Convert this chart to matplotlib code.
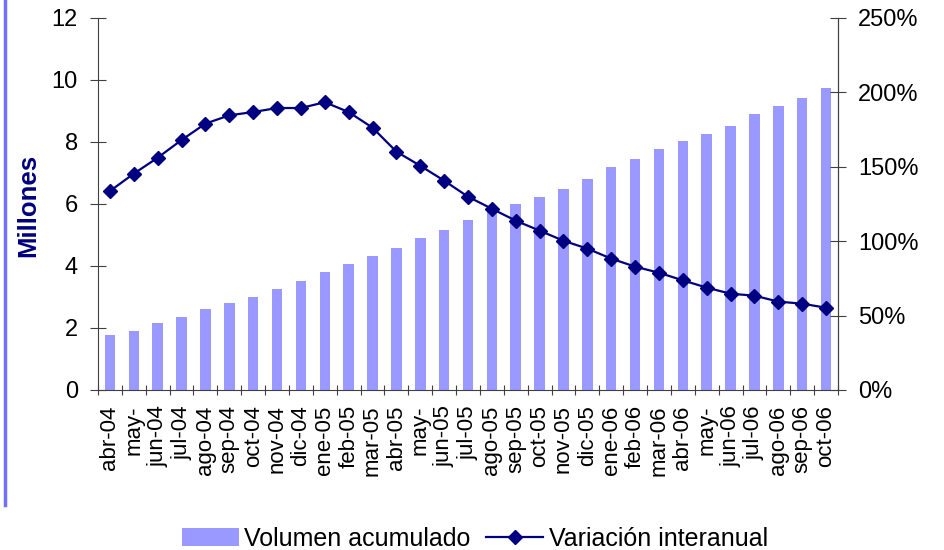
import matplotlib
matplotlib.use("Agg")
import matplotlib.pyplot as plt
from matplotlib.lines import Line2D
from matplotlib.ticker import FuncFormatter, FixedLocator, NullFormatter

plt.rcParams['font.family'] = ['Liberation Sans', 'DejaVu Sans']

# Monthly labels (Excel truncated the "may" ones)
meses = ["abr-04", "may-", "jun-04", "jul-04", "ago-04", "sep-04", "oct-04", "nov-04",
         "dic-04", "ene-05", "feb-05", "mar-05", "abr-05", "may-", "jun-05", "jul-05",
         "ago-05", "sep-05", "oct-05", "nov-05", "dic-05", "ene-06", "feb-06", "mar-06",
         "abr-06", "may-", "jun-06", "jul-06", "ago-06", "sep-06", "oct-06"]

# Volumen acumulado (millones)
volumen = [1.77, 1.91, 2.16, 2.35, 2.61, 2.81, 3.00, 3.26, 3.52, 3.81, 4.06, 4.32,
           4.58, 4.90, 5.16, 5.48, 5.84, 6.00, 6.23, 6.48, 6.81, 7.19, 7.45, 7.77,
           8.03, 8.26, 8.52, 8.90, 9.16, 9.42, 9.74]

# Variacion interanual (%)
variacion = [133.7, 145.4, 156.1, 168.0, 179.0, 184.6, 186.8, 189.5, 189.5, 193.4,
             186.8, 176.3, 160.2, 150.7, 140.7, 129.9, 121.8, 113.8, 107.1, 100.3,
             95.0, 88.3, 82.9, 78.8, 73.7, 68.8, 64.7, 63.4, 59.4, 58.0, 55.3]

BAR_COLOR = "#9999ff"
LINE_COLOR = "#000080"
AXIS_COLOR = "#404040"

fig = plt.figure(figsize=(9.44, 5.5), dpi=100)
ax = fig.add_axes([98 / 944, 1 - 390 / 550, 740 / 944, 372 / 550])
ax2 = ax.twinx()

x = list(range(len(meses)))
bars = ax.bar(x, volumen, width=0.44, color=BAR_COLOR, label="Volumen acumulado")
line, = ax2.plot(x, variacion, color=LINE_COLOR, lw=1.6, marker="D", ms=7,
                 label="Variación interanual")

ax.set_xlim(-0.5, len(meses) - 0.5)
ax.set_ylim(0, 12)
ax.set_yticks(range(0, 13, 2))
ax2.set_ylim(0, 250)
ax2.set_yticks(range(0, 251, 50))
ax2.yaxis.set_major_formatter(FuncFormatter(lambda v, p: f"{int(v)}%"))

# ticks between categories, labels at category centres
ax.xaxis.set_major_locator(FixedLocator([i - 0.5 for i in range(len(meses) + 1)]))
ax.xaxis.set_major_formatter(NullFormatter())
ax.xaxis.set_minor_locator(FixedLocator(x))
ax.set_xticklabels(meses, minor=True, rotation=90, fontsize=16)
ax.tick_params(axis="x", which="major", direction="inout", length=7, color=AXIS_COLOR)
ax.tick_params(axis="x", which="minor", length=0, pad=11)

ax.tick_params(axis="y", direction="inout", length=11, labelsize=17, pad=9, color=AXIS_COLOR)
ax2.tick_params(axis="y", direction="inout", length=11, labelsize=17, pad=9, color=AXIS_COLOR)

for a in (ax, ax2):
    a.spines["top"].set_visible(False)
    for s in ("left", "right", "bottom"):
        a.spines[s].set_color(AXIS_COLOR)
ax2.spines["left"].set_visible(False)
ax2.spines["bottom"].set_visible(False)

fig.text(28 / 944, 1 - 205 / 550, "Millones", rotation=90, ha="center", va="center",
         fontsize=18.5, fontweight="bold", color=LINE_COLOR)

# left border of the chart area
fig.add_artist(Line2D([5 / 944, 5 / 944], [1, 1 - 505 / 550], color="#7070ff", lw=2.5))

fig.legend(handles=[bars, line], loc="center", bbox_to_anchor=(0.503, 1 - 539 / 550),
           ncol=2, frameon=False, fontsize=18, handlelength=2.28, handleheight=0.72,
           handletextpad=0.22, columnspacing=0.64, borderpad=0.1)

fig.savefig("out.png", dpi=100)
